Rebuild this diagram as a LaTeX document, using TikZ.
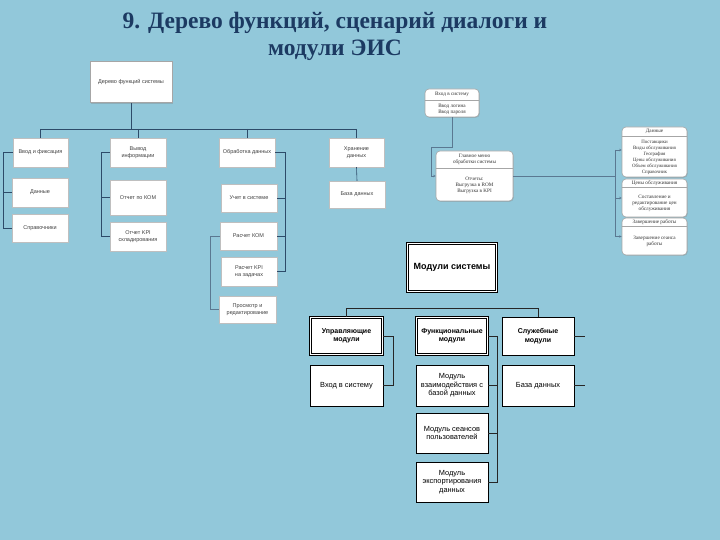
\documentclass[tikz,border=0pt]{standalone}
\usepackage{fontspec}
\setmainfont{Liberation Serif}
\setsansfont{Liberation Sans}
\usetikzlibrary{shadows,calc,arrows.meta}
\definecolor{bg}{RGB}{146,200,218}
\definecolor{ttl}{RGB}{28,58,98}
\definecolor{ln}{RGB}{45,75,105}
\definecolor{dl}{RGB}{90,120,145}
\begin{document}
\begin{tikzpicture}[x=1pt,y=-1pt,
  fbox/.style={draw=gray!50, fill=white, drop shadow={shadow xshift=1pt,shadow yshift=-1pt,opacity=0.35},
    font=\sffamily\fontsize{5.5}{6.6}\selectfont, text=black!75, align=center, inner sep=1pt},
  tl/.style={draw=ln, line width=0.6pt},
  dbox/.style={draw=gray!70, fill=white, rounded corners=4pt, line width=0.6pt, inner sep=0pt,
    drop shadow={shadow xshift=0.8pt,shadow yshift=-0.8pt,opacity=0.3}},
  dtxt/.style={font=\fontsize{5.2}{6}\selectfont, text=black!80, align=center, inner sep=0pt},
  dln/.style={draw=dl, line width=0.6pt},
  mbox/.style={draw=black, fill=white, font=\sffamily\fontsize{7.4}{8.6}\selectfont, align=center, inner sep=1pt,
    drop shadow={shadow xshift=1pt,shadow yshift=-1pt,opacity=0.3}},
  mdbl/.style={mbox, double, double distance=1.1pt, line width=0.7pt, font=\sffamily\bfseries\fontsize{7}{8.4}\selectfont},
  ml/.style={draw=black!85, line width=0.7pt}
]
\useasboundingbox (0,0) rectangle (720,540);
\fill[bg] (0,0) rectangle (720,540);

% title
\node[font=\bfseries\fontsize{23.5}{27}\selectfont, text=ttl, align=center] (title) at (335,36.5)
  {9. Дерево функций, сценарий диалоги и\\модули ЭИС};

% ---------- function tree ----------
\node[fbox, draw=gray!70, line width=1pt, minimum width=82pt, minimum height=41pt] (root) at (131,82.5) {Дерево функций системы};
\node[fbox, minimum width=55pt, minimum height=29pt] (f1) at (40.5,152.5) {Ввод и фиксация};
\node[fbox, minimum width=56pt, minimum height=29pt] (f2) at (138,152.5) {Вывод\\информации};
\node[fbox, minimum width=56pt, minimum height=29pt] (f3) at (247,152.5) {Обработка данных};
\node[fbox, minimum width=55pt, minimum height=29pt] (f4) at (356.5,152.5) {Хранение\\данных};

\node[fbox, minimum width=56pt, minimum height=29pt] (f11) at (40,192.5) {Данные};
\node[fbox, minimum width=56pt, minimum height=28pt] (f12) at (40,228) {Справочники};
\node[fbox, minimum width=56pt, minimum height=35pt] (f21) at (138,197.5) {Отчет по КОМ};
\node[fbox, minimum width=56pt, minimum height=29pt] (f22) at (138,236.5) {Отчет KPI\\складирования};
\node[fbox, minimum width=56pt, minimum height=28pt] (f31) at (249,198) {Учет в системе};
\node[fbox, minimum width=57pt, minimum height=28pt] (f32) at (248.5,236) {Расчет КОМ};
\node[fbox, minimum width=56pt, minimum height=29pt] (f33) at (249,271.5) {Расчет KPI\\на задачах};
\node[fbox, minimum width=57pt, minimum height=27pt] (f34) at (247.5,309.5) {Просмотр и\\редактирование};
\node[fbox, minimum width=56pt, minimum height=27pt] (f41) at (357,194.5) {База данных};

\coordinate (h) at (0,129);
\draw[tl] (root.south) -- (root.south |- h);
\draw[tl] (f1.north |- h) -- (f4.north |- h);
\foreach \n in {f1,f2,f3,f4} \draw[tl] (\n.north |- h) -- (\n.north);

\coordinate (v1) at (3,0);
\draw[tl] (f1.west) -| (v1 |- f12.west) -- (f12.west);
\draw[tl] (v1 |- f11.west) -- (f11.west);
\coordinate (v2) at (101,0);
\draw[tl] (f2.west) -| (v2 |- f22.west) -- (f22.west);
\draw[tl] (v2 |- f21.west) -- (f21.west);
\coordinate (v3) at (285,0);
\draw[tl] (f3.east) -| (v3 |- f33.east) -- (f33.east);
\draw[tl] (v3 |- f31.east) -- (f31.east);
\draw[tl] (v3 |- f32.east) -- (f32.east);
\coordinate (v4) at (210,0);
\draw[tl, draw=dl] (f32.west) -| (v4 |- f34.west) -- (f34.west);
\draw[tl] (f4.south) -- (f41.north);

% ---------- dialog scenario ----------
\node[dbox, minimum width=54pt, minimum height=28pt] (d1) at (452,103) {};
\draw[draw=gray!70, line width=0.9pt] ($(d1.north west)+(0,12)$) -- ($(d1.north east)+(0,12)$);
\node[dtxt] (d1t) at ($(d1.north)+(0,6)$) {Вход в систему};
\node[dtxt] (d1b) at ($(d1.south)+(0,-8)$) {Ввод логина\\Ввод пароля};

\node[dbox, minimum width=77pt, minimum height=50pt] (d2) at (474.5,176) {};
\draw[draw=gray!70, line width=0.6pt] ($(d2.north west)+(0,18)$) -- ($(d2.north east)+(0,18)$);
\node[dtxt] (d2t) at ($(d2.north)+(0,9)$) {Главное меню\\обработки системы};
\node[dtxt] (d2b) at ($(d2.south)+(0,-16)$) {Отчеты:\\Выгрузка в ROM\\Выгрузка в KPI};

\node[dbox, minimum width=65pt, minimum height=50pt] (r1) at (654.5,152) {};
\draw[draw=gray!70, line width=0.6pt] ($(r1.north west)+(0,10)$) -- ($(r1.north east)+(0,10)$);
\node[dtxt] (r1t) at ($(r1.north)+(0,5)$) {Данные};
\node[dtxt, font=\fontsize{4.9}{6}\selectfont] (r1b) at ($(r1.south)+(0,-20)$) {Поставщики\\Виды обслуживания\\География\\Цены обслуживания\\Объем обслуживания\\Справочник};

\node[dbox, minimum width=65pt, minimum height=38pt] (r2) at (654.5,198) {};
\draw[draw=gray!70, line width=0.6pt] ($(r2.north west)+(0,9)$) -- ($(r2.north east)+(0,9)$);
\node[dtxt] (r2t) at ($(r2.north)+(0,4.5)$) {Цены обслуживания};
\node[dtxt] (r2b) at ($(r2.south)+(0,-14)$) {Составление и\\редактирование цен\\обслуживания};

\node[dbox, minimum width=65pt, minimum height=37pt] (r3) at (654.5,236.5) {};
\draw[draw=gray!70, line width=0.6pt] ($(r3.north west)+(0,9)$) -- ($(r3.north east)+(0,9)$);
\node[dtxt] (r3t) at ($(r3.north)+(0,4.5)$) {Завершение работы};
\node[dtxt] (r3b) at ($(r3.south)+(0,-14)$) {Завершение сеанса\\работы};

\coordinate (dv) at (431,147);
\draw[dln, -{Stealth[length=2.5pt,width=2.5pt]}] (d1.south) -- (d1.south |- dv) -- (dv) |- (d2.west);
\coordinate (rv) at (615,150);
\draw[dln] (d2.east) -- (rv |- d2.east);
\draw[dln] (rv) -- (rv |- r3.west);
\draw[dln, -{Stealth[length=2.5pt,width=2.5pt]}] (rv) -- (r1.west |- rv);
\draw[dln, -{Stealth[length=2.5pt,width=2.5pt]}] (rv |- r2.west) -- (r2.west);
\draw[dln, -{Stealth[length=2.5pt,width=2.5pt]}] (rv |- r3.west) -- (r3.west);

% ---------- modules ----------
\node[mdbl, line width=1pt, minimum width=89pt, minimum height=48pt, font=\sffamily\bfseries\fontsize{9}{10}\selectfont] (m0) at (452,267.5) {Модули системы};
\node[mdbl, minimum width=72pt, minimum height=37pt] (m1) at (346.5,336) {Управляющие\\модули};
\node[mdbl, minimum width=71pt, minimum height=37pt] (m2) at (452,336) {Функциональные\\модули};
\node[mbox, line width=0.8pt, minimum width=72pt, minimum height=38pt, font=\sffamily\bfseries\fontsize{7}{8.4}\selectfont] (m3) at (538,336) {Служебные\\модули};
\node[mbox, minimum width=73pt, minimum height=41pt] (m11) at (346.5,385.5) {Вход в систему};
\node[mbox, minimum width=72pt, minimum height=41pt] (m21) at (452,385.5) {Модуль\\взаимодействия с\\базой данных};
\node[mbox, minimum width=72pt, minimum height=40pt] (m22) at (452,433) {Модуль сеансов\\пользователей};
\node[mbox, minimum width=72pt, minimum height=40pt] (m23) at (452,482) {Модуль\\экспортирования\\данных};
\node[mbox, minimum width=72pt, minimum height=41pt] (m31) at (538,385.5) {База данных};

\coordinate (mh) at (0,308);
\draw[ml] (m1.north |- mh) -- (m3.north |- mh);
\draw[ml] (m1.north |- mh) -- (m1.north);
\draw[ml] (m3.north |- mh) -- (m3.north);
\coordinate (mv1) at (393,0);
\draw[ml] (m1.east) -| (mv1 |- m11.east) -- (m11.east);
\coordinate (mv2) at (497,0);
\draw[ml] (m2.east) -| (mv2 |- m23.east) -- (m23.east);
\draw[ml] (mv2 |- m21.east) -- (m21.east);
\draw[ml] (mv2 |- m22.east) -- (m22.east);
\draw[ml] (m3.east) -- ++(11,0);
\draw[ml] (m31.east) -- ++(11,0);
\end{tikzpicture}
\end{document}
